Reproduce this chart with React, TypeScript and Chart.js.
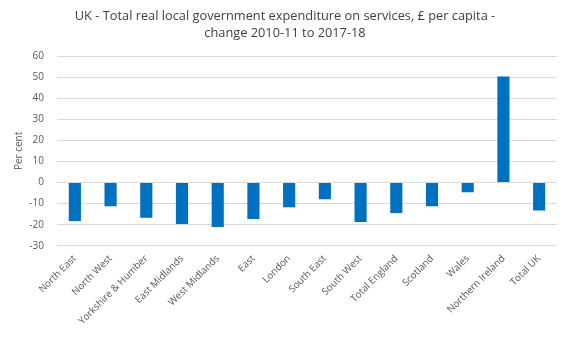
import React, { useEffect, useRef } from "react";
import { Chart, registerables } from "chart.js";

Chart.register(...registerables);

const categories = [
  "North East",
  "North West",
  "Yorkshire & Humber",
  "East Midlands",
  "West Midlands",
  "East",
  "London",
  "South East",
  "South West",
  "Total England",
  "Scotland",
  "Wales",
  "Northern Ireland",
  "Total UK",
];
const changeValues = [-18.3, -11.2, -16.7, -19.7, -21.1, -17.3, -11.7, -7.9, -18.7, -14.5, -11.2, -4.6, 50.3, -13.3];
const titleLines = [
  "UK - Total real local government expenditure on services, £ per capita -",
  "change 2010-11 to 2017-18",
];
const yAxisTitle = "Per cent";

export default function App() {
  const ref = useRef<HTMLCanvasElement | null>(null);
  useEffect(() => {
    document.body.style.margin = "0";
    const font = "'Open Sans', 'Liberation Sans', sans-serif";
    const chart = new Chart(ref.current!, {
      type: "bar",
      data: {
        labels: categories,
        datasets: [
          {
            data: changeValues,
            backgroundColor: "#0070C0",
            barPercentage: 0.34,
            categoryPercentage: 1,
          },
        ],
      },
      options: {
        animation: false,
        responsive: false,
        layout: { padding: { left: 13, right: 10, top: 6, bottom: 6 } },
        plugins: {
          legend: { display: false },
          tooltip: { enabled: false },
          title: {
            display: true,
            text: titleLines,
            color: "#404040",
            font: { family: font, size: 12.8, weight: "normal", lineHeight: 1.33 },
            padding: { top: 2, bottom: 14 },
          },
        },
        scales: {
          x: {
            grid: { display: false, drawTicks: false },
            border: { display: false },
            afterFit: (scale: any) => {
              scale.paddingLeft = 0;
              scale.paddingRight = 0;
            },
            ticks: {
              color: "#595959",
              font: { family: font, size: 9.8 },
              minRotation: 45,
              maxRotation: 45,
              padding: 7,
              autoSkip: false,
            },
          },
          y: {
            min: -30,
            max: 60,
            grid: { color: "#d9d9d9", drawTicks: false },
            border: { display: false },
            afterFit: (scale: any) => {
              scale.width = 44;
            },
            ticks: {
              stepSize: 10,
              color: "#595959",
              font: { family: font, size: 10 },
              padding: 13,
            },
            title: {
              display: true,
              text: yAxisTitle,
              color: "#595959",
              font: { family: font, size: 10 },
              padding: { top: 0, bottom: 4 },
            },
          },
        },
      },
    });
    return () => chart.destroy();
  }, []);
  return <canvas ref={ref} width={567} height={340} style={{ display: "block" }} />;
}
